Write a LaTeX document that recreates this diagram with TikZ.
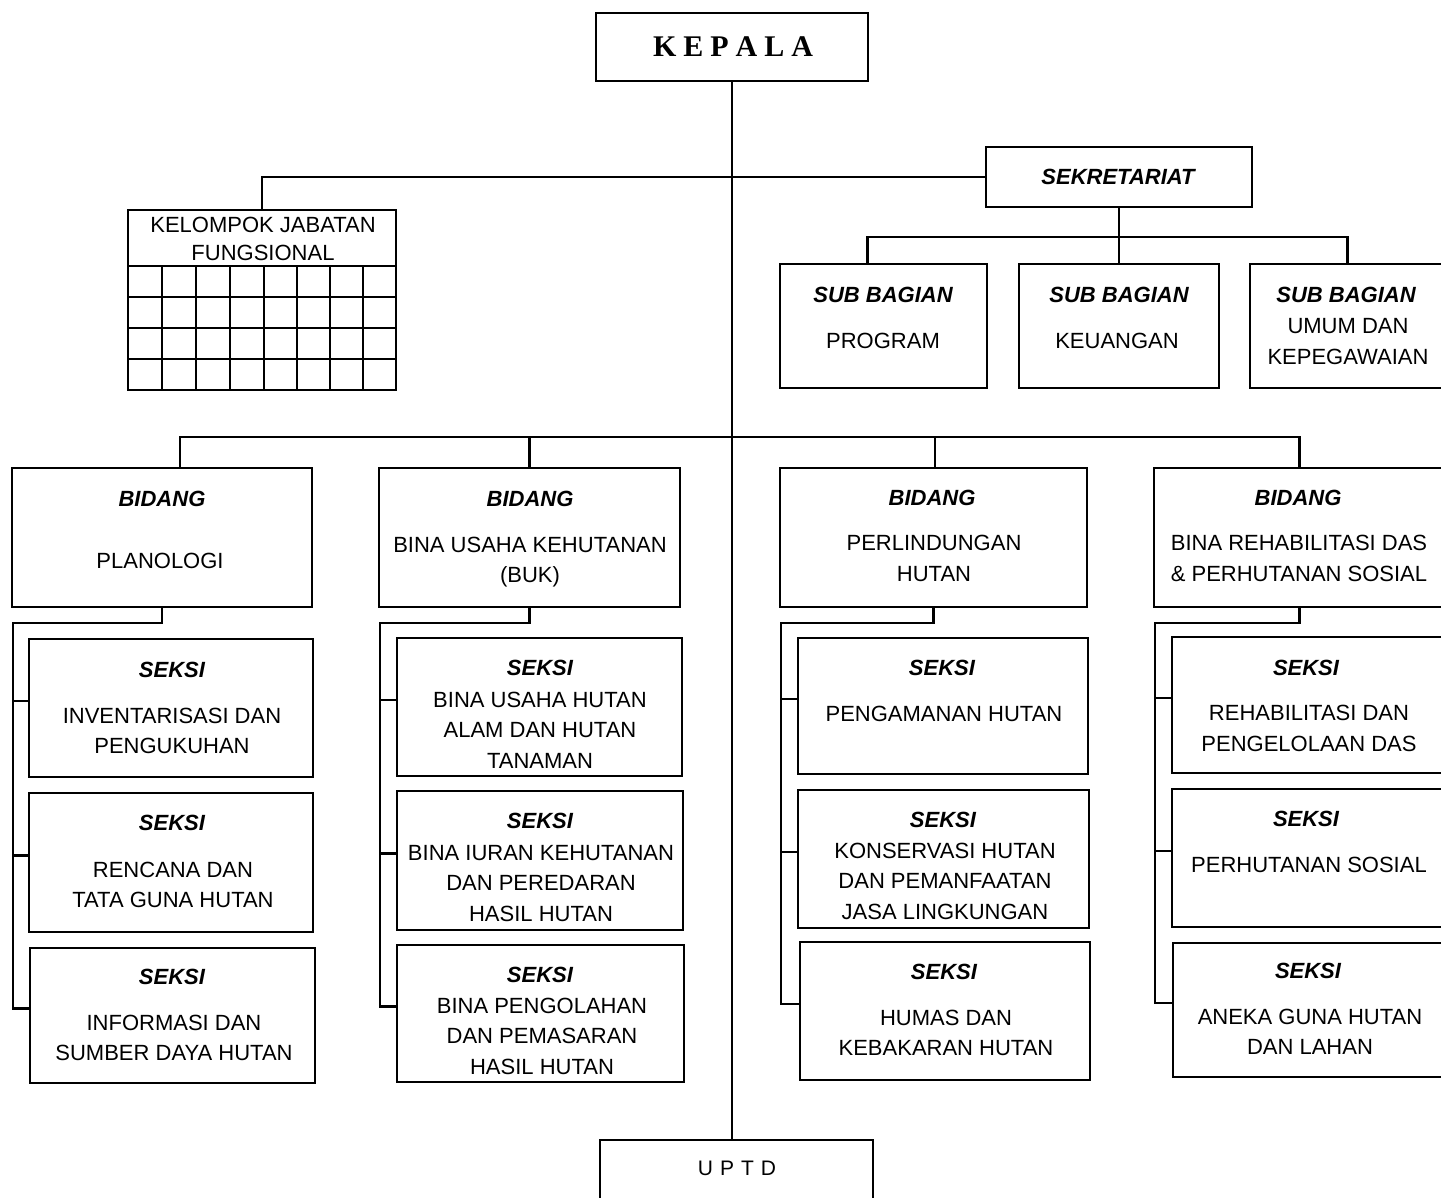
\documentclass[tikz,border=0pt]{standalone}
\usepackage{fontspec}
\setmainfont{Liberation Sans}
\newfontfamily\serifhead{Liberation Serif}
\newcommand\orgbox[5]{%
  \node[box, anchor=north west, minimum width={#4pt-#2pt}, minimum height={#5pt-#3pt}] (#1) at (#2,#3) {};}
% rail on the left of a bidang with three seksi boxes
\newcommand\seksicol[5]{%
  \coordinate (#1rail) at (#2,623);
  \path ([yshift=7pt]#3.west) coordinate (#3t);
  \path ([yshift=7pt]#4.west) coordinate (#4t);
  \path ([yshift=7pt]#5.west) coordinate (#5t);
  \draw (#1.south) |- (#1rail) |- (#5t);
  \draw (#3t) -- (#3t -| #1rail);
  \draw (#4t) -- (#4t -| #1rail);}
\begin{document}
\begin{tikzpicture}[x=1pt,y=-1pt,line width=2.4pt,
  box/.style={draw, rectangle, line width=2.6pt, inner sep=0pt, outer sep=0pt},
  hd/.style={font=\fontsize{22}{30}\selectfont\bfseries\itshape, inner sep=0pt},
  bd/.style={font=\fontsize{22}{30.5}\selectfont, align=center, inner sep=0pt, text depth=0pt},
]
\useasboundingbox[fill=white] (0,0) rectangle (1441,1198);

% top level
\orgbox{kepala}{596}{13}{868}{81}
\node[font=\serifhead\bfseries\fontsize{30}{30}\selectfont, inner sep=0pt] (kepalat) at (733,47)
  {K\kern7pt E\kern7pt P\kern7pt A\kern7pt L\kern7pt A};
\orgbox{uptd}{600}{1140}{873}{1215}
\node[font=\fontsize{21}{21}\selectfont, inner sep=0pt] (uptdt) at (737,1168)
  {U\kern7pt P\kern7pt T\kern7pt D};

% sekretariat and sub bagian
\orgbox{sek}{986}{147}{1252}{207}
\node[hd] (sekt) at (1118,177) {SEKRETARIAT};
\orgbox{prog}{780}{264}{987}{388}
\node[hd] (progh) at (883,295) {SUB BAGIAN};
\node[bd] (progb) at (883,341) {PROGRAM};
\orgbox{keu}{1019}{264}{1219}{388}
\node[hd] (keuh) at (1119,295) {SUB BAGIAN};
\node[bd] (keub) at (1117,341) {KEUANGAN};
\orgbox{umum}{1250}{264}{1445}{388}
\node[hd] (umumh) at (1346,295) {SUB BAGIAN};
\node[bd] (umumb) at (1348,341.5) {UMUM DAN\\KEPEGAWAIAN};

% kelompok jabatan fungsional with its grid
\orgbox{kjf}{128}{210}{396}{390}
\node[bd, font=\fontsize{22}{28}\selectfont] (kjft) at (263,239) {KELOMPOK JABATAN\\FUNGSIONAL};
\foreach \y in {266,297,328,359} \draw (128,\y) -- (396,\y);
\foreach \x in {162,196,230,264,297,330,363} \draw (\x,266) -- (\x,390);

% bidang
\orgbox{pla}{12}{468}{312}{607}
\node[hd] (plah) at (162,499) {BIDANG};
\node[bd] (plab) at (160,561) {PLANOLOGI};
\orgbox{buk}{379}{468}{680}{607}
\node[hd] (bukh) at (530,499) {BIDANG};
\node[bd] (bukb) at (530,560) {BINA USAHA KEHUTANAN\\(BUK)};
\orgbox{per}{780}{468}{1087}{607}
\node[hd] (perh) at (932,498) {BIDANG};
\node[bd] (perb) at (934,558.5) {PERLINDUNGAN\\HUTAN};
\orgbox{reh}{1154}{468}{1445}{607}
\node[hd] (rehh) at (1298,498) {BIDANG};
\node[bd] (rehb) at (1299,558.5) {BINA REHABILITASI DAS\\\& PERHUTANAN SOSIAL};

% seksi under planologi
\orgbox{s11}{29}{639}{313}{777}
\node[hd] (s11h) at (172,670) {SEKSI};
\node[bd] (s11b) at (172,731) {INVENTARISASI DAN\\PENGUKUHAN};
\orgbox{s12}{29}{793}{313}{932}
\node[hd] (s12h) at (172,823) {SEKSI};
\node[bd] (s12b) at (173,885) {RENCANA DAN\\TATA GUNA HUTAN};
\orgbox{s13}{30}{948}{315}{1083}
\node[hd] (s13h) at (172,977) {SEKSI};
\node[bd] (s13b) at (174,1038) {INFORMASI DAN\\SUMBER DAYA HUTAN};

% seksi under bina usaha kehutanan
\orgbox{s21}{397}{638}{682}{776}
\node[hd] (s21h) at (540,668) {SEKSI};
\node[bd] (s21b) at (540,730) {BINA USAHA HUTAN\\ALAM DAN HUTAN\\TANAMAN};
\orgbox{s22}{397}{791}{683}{930}
\node[hd] (s22h) at (540,821) {SEKSI};
\node[bd] (s22b) at (541,883) {BINA IURAN KEHUTANAN\\DAN PEREDARAN\\HASIL HUTAN};
\orgbox{s23}{397}{945}{684}{1082}
\node[hd] (s23h) at (540,975) {SEKSI};
\node[bd] (s23b) at (542,1036) {BINA PENGOLAHAN\\DAN PEMASARAN\\HASIL HUTAN};

% seksi under perlindungan hutan
\orgbox{s31}{798}{638}{1088}{774}
\node[hd] (s31h) at (942,668) {SEKSI};
\node[bd] (s31b) at (944,714) {PENGAMANAN HUTAN};
\orgbox{s32}{798}{790}{1089}{928}
\node[hd] (s32h) at (943,820) {SEKSI};
\node[bd] (s32b) at (945,881) {KONSERVASI HUTAN\\DAN PEMANFAATAN\\JASA LINGKUNGAN};
\orgbox{s33}{800}{942}{1090}{1080}
\node[hd] (s33h) at (944,972) {SEKSI};
\node[bd] (s33b) at (946,1033) {HUMAS DAN\\KEBAKARAN HUTAN};

% seksi under rehabilitasi
\orgbox{s41}{1172}{637}{1445}{773}
\node[hd] (s41h) at (1306,668) {SEKSI};
\node[bd] (s41b) at (1309,728.5) {REHABILITASI DAN\\PENGELOLAAN DAS};
\orgbox{s42}{1172}{789}{1445}{927}
\node[hd] (s42h) at (1306,819) {SEKSI};
\node[bd] (s42b) at (1309,865) {PERHUTANAN SOSIAL};
\orgbox{s43}{1173}{943}{1445}{1077}
\node[hd] (s43h) at (1308,971) {SEKSI};
\node[bd] (s43b) at (1310,1032) {ANEKA GUNA HUTAN\\DAN LAHAN};

% connectors
\draw (kepala.south) -- (kepala.south |- uptd.north);
\coordinate (spine) at (kepala.south |- sek.west);
\draw (spine) -- (sek.west);
\draw (spine) -| (kjf.north);
\coordinate (sbj) at ([yshift=-30pt]sek.south);
\draw (sek.south) -- (sbj) -- (keu.north);
\draw ([xshift=-16pt]prog.north) |- (sbj) -| (umum.north);
\coordinate (bj) at (732,437);
\draw ([xshift=18pt]pla.north) |- (bj) -| (reh.north);
\draw (buk.north) -- (buk.north |- bj);
\draw ([xshift=1.5pt]per.north) -- ([xshift=1.5pt]per.north |- bj);
\seksicol{pla}{13}{s11}{s12}{s13}
\seksicol{buk}{380}{s21}{s22}{s23}
\seksicol{per}{781}{s31}{s32}{s33}
\seksicol{reh}{1155}{s41}{s42}{s43}
\end{tikzpicture}
\end{document}
